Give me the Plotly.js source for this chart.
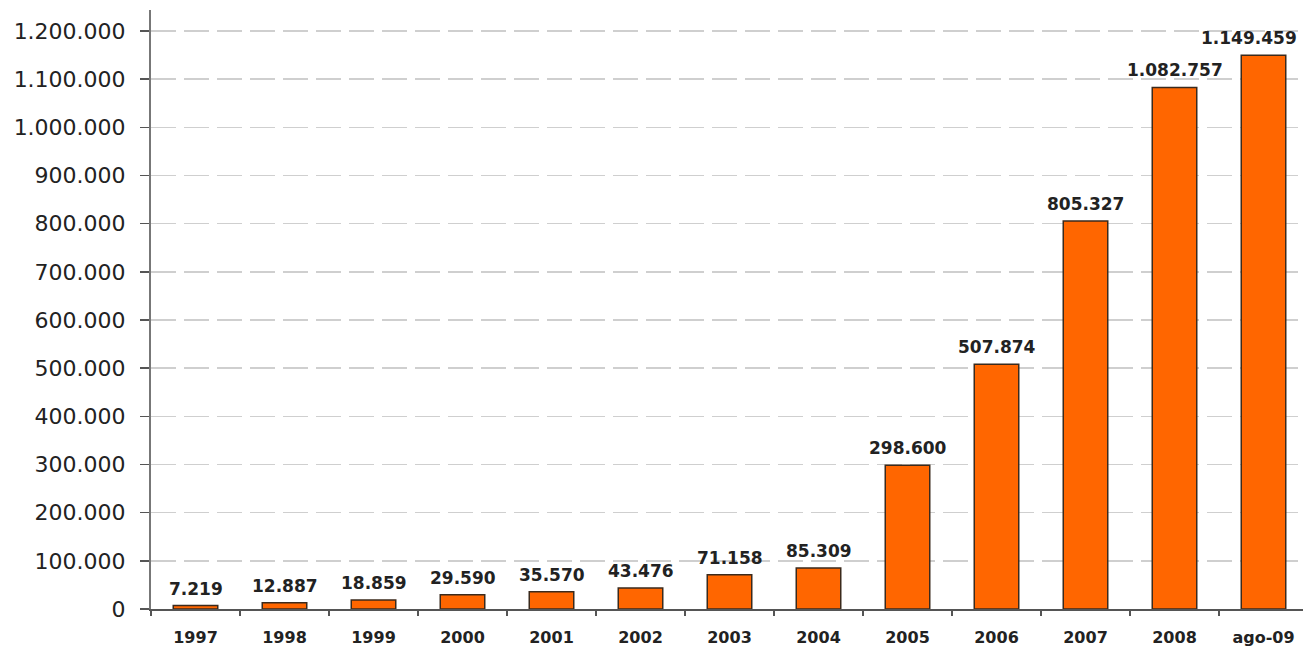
<!DOCTYPE html>
<html>
<head>
<meta charset="utf-8">
<script src="https://cdn.plot.ly/plotly-3.0.1.min.js"></script>
<style>html,body{margin:0;padding:0;background:#fff;overflow:hidden;}#chart{width:1308px;height:648px;}</style>
</head>
<body>
<div id="chart"></div>
<script>
var categories = ["1997","1998","1999","2000","2001","2002","2003","2004","2005","2006","2007","2008","ago-09"];
var values = [7219, 12887, 18859, 29590, 35570, 43476, 71158, 85309, 298600, 507874, 805327, 1082757, 1149459];
var yTicks = [0,100000,200000,300000,400000,500000,600000,700000,800000,900000,1000000,1100000,1200000];

var trace = {
  type: "bar",
  x: categories,
  y: values,
  width: 0.5,
  marker: {color: "#FF6600", line: {color: "#3b2a1c", width: 1.5}},
  hoverinfo: "none"
};

var fmt = function (v) { return String(v).replace(/\B(?=(\d{3})+(?!\d))/g, "."); };
var annotations = categories.map(function (c, i) {
  return {
    x: i, y: values[i], xref: "x", yref: "y",
    text: fmt(values[i]), showarrow: false,
    yanchor: "bottom", yshift: 5,
    xshift: (i === categories.length - 1) ? -15 : 0,
    font: {family: "DejaVu Sans", size: 17, color: "#222", weight: "bold"}
  };
});

var layout = {
  width: 1308, height: 648,
  margin: {l: 151, r: 0, t: 10, b: 39},
  separators: ",.",
  paper_bgcolor: "#fff", plot_bgcolor: "#fff",
  showlegend: false,
  annotations: annotations,
  xaxis: {
    type: "category",
    categoryarray: categories, categoryorder: "array",
    range: [-0.5, 12.5],
    showline: true, linecolor: "#555", linewidth: 1.5,
    ticks: "outside", tickson: "boundaries", ticklen: 5, tickcolor: "#555", tickwidth: 1.5,
    ticklabelstandoff: 13,
    tickfont: {family: "DejaVu Sans", size: 16, color: "#222", weight: "bold"},
    showgrid: false, zeroline: false
  },
  yaxis: {
    range: [0, 1243500],
    tickvals: yTicks,
    tickformat: ",d",
    showline: true, linecolor: "#777", linewidth: 2,
    ticks: "outside", ticklen: 9, tickcolor: "#555", tickwidth: 1.5,
    ticklabelstandoff: 10,
    tickfont: {family: "DejaVu Sans", size: 22, color: "#222"},
    showgrid: true, gridcolor: "#cfcfcf", gridwidth: 1.5, griddash: "25px,8px",
    zeroline: false
  }
};

Plotly.newPlot("chart", [trace], layout, {displayModeBar: false, staticPlot: true});
</script>
</body>
</html>
